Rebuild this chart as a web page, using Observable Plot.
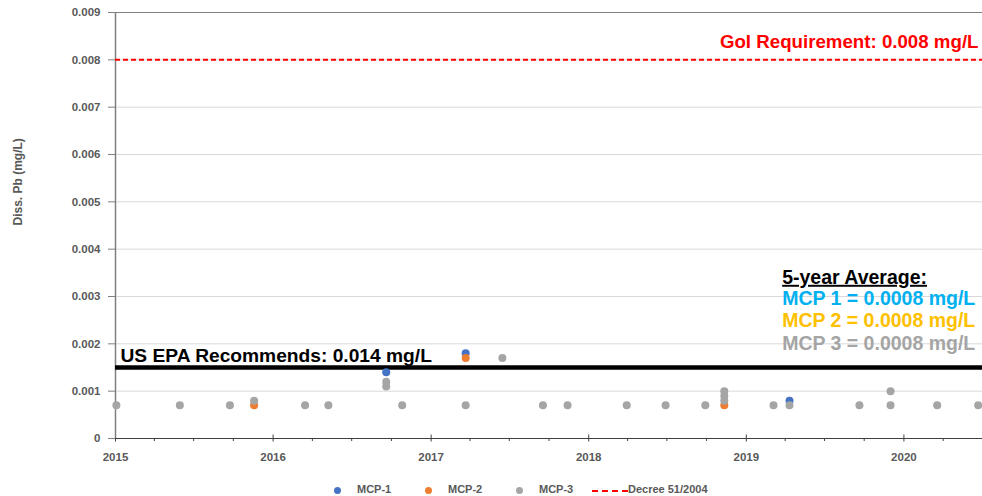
<!DOCTYPE html>
<html><head><meta charset="utf-8">
<script src="https://cdn.jsdelivr.net/npm/d3@7"></script>
<script src="https://cdn.jsdelivr.net/npm/@observablehq/plot@0.6"></script>
<style>
body{margin:0;background:#fff;font-family:"Liberation Sans",Arial,sans-serif;}
#wrap{width:982px;height:496px;position:relative;overflow:hidden;}
#legend{position:absolute;left:0;top:478px;width:982px;height:18px;font-size:11px;font-weight:bold;color:#595959;}
#legend span{position:absolute;top:5px;}
</style></head><body>
<div id="wrap"><div id="chart"></div><div id="legend"></div></div>
<script>
// ---- data ----
const seriesNames = ["MCP-1", "MCP-2", "MCP-3", "Decree 51/2004"];
const seriesColors = ["#4472C4", "#ED7D31", "#A5A5A5", "#FF0000"];

const mcp1Dates  = ["2016-09-19", "2017-03-22", "2019-04-11"];
const mcp1Values = [0.0014, 0.0018, 0.0008];

const mcp2Dates  = ["2015-11-18", "2017-03-22", "2018-11-11"];
const mcp2Values = [0.0007, 0.0017, 0.0007];

const mcp3Dates  = ["2015-01-03", "2015-05-30", "2015-09-23", "2015-11-18", "2016-03-15", "2016-05-08",
                    "2016-09-19", "2016-09-19", "2016-10-26", "2017-03-22", "2017-06-15", "2017-09-17",
                    "2017-11-13", "2018-03-30", "2018-06-28", "2018-09-28", "2018-11-11", "2018-11-11",
                    "2018-11-11", "2019-03-05", "2019-04-11", "2019-09-20", "2019-12-01", "2019-12-01",
                    "2020-03-18", "2020-06-21"];
const mcp3Values = [0.0007, 0.0007, 0.0007, 0.0008, 0.0007, 0.0007,
                    0.0012, 0.0011, 0.0007, 0.0007, 0.0017, 0.0007,
                    0.0007, 0.0007, 0.0007, 0.0007, 0.0010, 0.0009,
                    0.0008, 0.0007, 0.0007, 0.0007, 0.0010, 0.0007,
                    0.0007, 0.0007];

const decreeLimit = 0.008;   // GoI requirement
const epaLine = 0.0015;      // US EPA line as drawn
const goiLabel = "GoI Requirement: 0.008 mg/L";
const epaLabel = "US EPA Recommends: 0.014 mg/L";
const avgTitle = "5-year Average:";
const avgLabels = ["MCP 1 = 0.0008 mg/L", "MCP 2 = 0.0008 mg/L", "MCP 3 = 0.0008 mg/L"];
const avgColors = ["#00B0F0", "#FFC000", "#A5A5A5"];

const yTicks = [0, 0.001, 0.002, 0.003, 0.004, 0.005, 0.006, 0.007, 0.008, 0.009];
const yTickLabels = ["0", "0.001", "0.002", "0.003", "0.004", "0.005", "0.006", "0.007", "0.008", "0.009"];
const xTickYears = ["2015", "2016", "2017", "2018", "2019", "2020"];
const xDomain = ["2015-01-01", "2020-07-01"];
const yLabel = "Diss. Pb (mg/L)";

// ---- build ----
const parse = d3.utcParse("%Y-%m-%d");
const mk = (dates, vals, s) => dates.map((d, i) => ({date: parse(d), value: vals[i], series: s}));
const pts = [
  ...mk(mcp1Dates, mcp1Values, seriesNames[0]),
  ...mk(mcp2Dates, mcp2Values, seriesNames[1]),
  ...mk(mcp3Dates, mcp3Values, seriesNames[2])
];
const yearTicks = xTickYears.map(y => parse(y + "-01-01"));
const x0 = parse(xDomain[0]), x1 = parse(xDomain[1]);
const quarterTicks = d3.utcMonth.every(3).range(x0, x1).filter(d => d.getUTCMonth() !== 0);
const yFmt = d => yTickLabels[yTicks.indexOf(d)];

const fontBase = {fontFamily: "Liberation Sans, Arial, sans-serif", fontWeight: "bold"};

const chart = Plot.plot({
  width: 982,
  height: 478,
  marginLeft: 115,
  marginRight: 0,
  marginTop: 12,
  marginBottom: 40,
  style: {fontFamily: "Liberation Sans, Arial, sans-serif", fontSize: "11.5px", fontWeight: "bold", color: "#595959", background: "#fff", overflow: "visible"},
  x: {type: "utc", domain: [x0, x1]},
  y: {domain: [0, 0.009]},
  color: {domain: seriesNames, range: seriesColors},
  marks: [
    Plot.gridY(yTicks.filter(v => v > 0 && v < 0.009), {stroke: "#D9D9D9", strokeOpacity: 1, strokeWidth: 1}),
    Plot.ruleY([0.009], {stroke: "#808080", strokeWidth: 1.2}),
    Plot.axisY({ticks: yTicks, tickFormat: yFmt, tickSize: 7, tickPadding: 8, stroke: "#808080", fill: "#595959", label: null}),
    Plot.axisX({ticks: quarterTicks, tickSize: 3, text: null, stroke: "#404040", label: null}),
    Plot.axisX({ticks: yearTicks, tickSize: 7, dy: -3.5, text: null, stroke: "#404040", label: null}),
    Plot.axisX({ticks: yearTicks, tickSize: 0, tickPadding: 14, tickFormat: d3.utcFormat("%Y"), fill: "#595959", label: null}),
    Plot.ruleX([x0], {stroke: "#808080", strokeWidth: 1.5}),
    Plot.ruleY([0], {stroke: "#404040", strokeWidth: 1.2}),
    Plot.ruleY([decreeLimit], {stroke: seriesColors[3], strokeWidth: 2, strokeDasharray: "5,3"}),
    Plot.ruleY([epaLine], {stroke: "#000", strokeWidth: 4.5}),
    Plot.dot(pts, {x: "date", y: "value", fill: "series", r: 4, stroke: null}),
    Plot.text([goiLabel], {x: x1, y: 0.00838, text: d => d, textAnchor: "end", dx: -4, fill: "#FF0000", fontSize: 18.7, ...fontBase}),
    Plot.text([epaLabel], {x: x0, y: 0.00175, text: d => d, textAnchor: "start", dx: 5, fill: "#000", fontSize: 19.2, ...fontBase}),
    Plot.text([avgTitle], {x: parse("2019-03-25"), y: 0.0034, text: d => d, textAnchor: "start", fill: "#000", fontSize: 19.5, ...fontBase}),
    Plot.text(avgLabels, {x: parse("2019-03-25"), y: (d, i) => [0.00296, 0.00248, 0.002][i], text: d => d, textAnchor: "start", fill: (d, i) => avgColors[i], fontSize: 19.5, ...fontBase}),
    Plot.text([yLabel], {frameAnchor: "left", rotate: -90, dx: -97, fill: "#595959", fontSize: 12, ...fontBase})
  ]
});
document.getElementById("chart").appendChild(chart);
d3.select(chart).selectAll("text").filter(function () { return this.textContent === avgTitle; })
  .style("text-decoration", "underline");

// ---- legend ----
const leg = document.getElementById("legend");
const legendX = [337, 428, 519, 592];
seriesNames.forEach((name, i) => {
  const m = document.createElement("span");
  if (i < 3) {
    m.style.cssText = `left:${legendX[i] - 3.5}px;top:8.5px;width:7px;height:7px;border-radius:50%;background:${seriesColors[i]};`;
  } else {
    m.style.cssText = `left:${legendX[i]}px;top:11.5px;width:36px;height:0;border-top:2px dashed ${seriesColors[i]};`;
  }
  leg.appendChild(m);
  const t = document.createElement("span");
  t.textContent = name;
  t.style.left = (i < 3 ? legendX[i] + 20 : legendX[i] + 36) + "px";
  leg.appendChild(t);
});
</script>
</body></html>
